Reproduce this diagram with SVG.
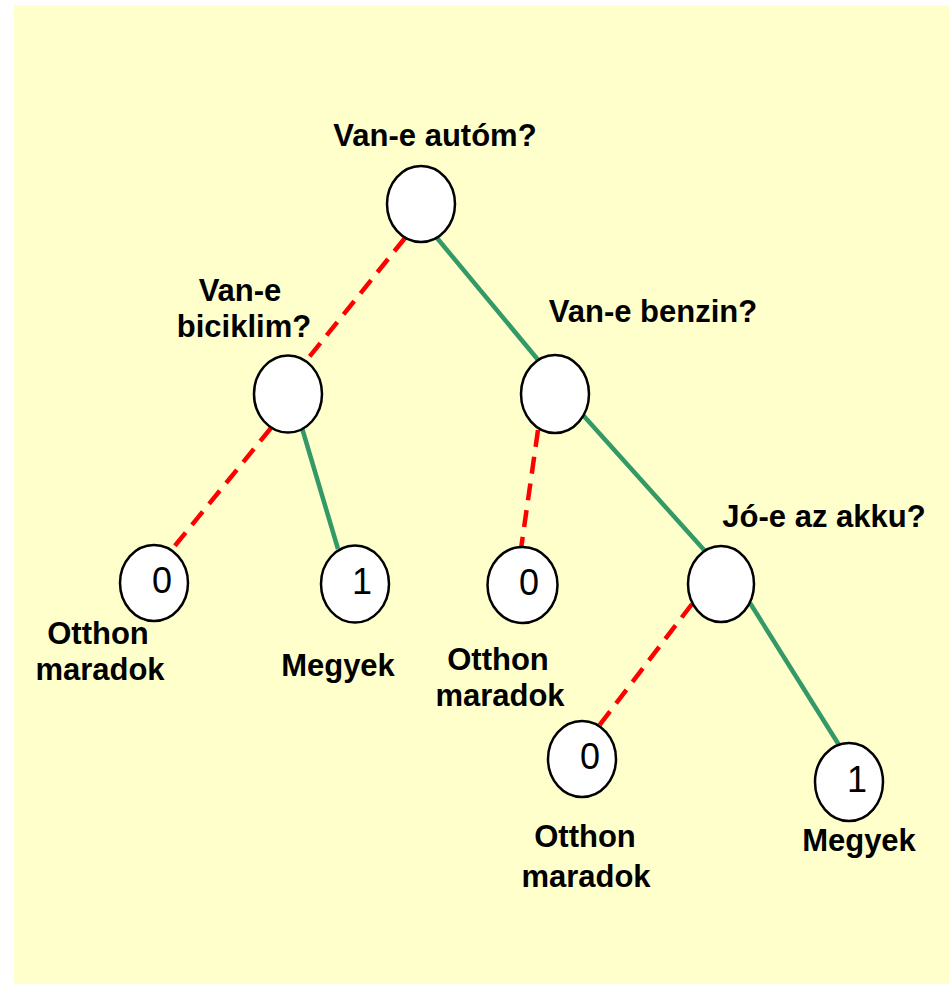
<svg xmlns="http://www.w3.org/2000/svg" width="949" height="984" viewBox="0 0 949 984">
<style>
.node ellipse{fill:#FFFFFF;stroke:#000000;stroke-width:2.5}
.lbl{font-family:"Liberation Sans",Arial,sans-serif;font-weight:bold;font-size:31px;fill:#000000;text-anchor:middle}
.dig{font-family:"Liberation Sans",Arial,sans-serif;font-size:36px;fill:#000000;text-anchor:middle}
.no{stroke:#FF0000;stroke-width:4.5;stroke-dasharray:17 10;fill:none}
.yes{stroke:#339966;stroke-width:4.5;fill:none}
</style>
<rect x="14" y="5" width="935" height="979" fill="#FFFFCC"/>
<g id="connectors">
<line class="no" x1="405" y1="238" x2="306" y2="361"/>
<line class="yes" x1="437" y1="238" x2="539" y2="361"/>
<line class="no" x1="271" y1="428" x2="169" y2="553"/>
<line class="yes" x1="302" y1="428" x2="338" y2="549"/>
<line class="no" x1="538" y1="430" x2="521" y2="549"/>
<line class="yes" x1="582" y1="414" x2="705" y2="551"/>
<line class="no" x1="692" y1="604" x2="598" y2="727"/>
<line class="yes" x1="750" y1="603" x2="839" y2="745"/>
</g>
<g id="n-auto" class="node"><ellipse cx="421" cy="204" rx="34" ry="38"/><text class="lbl" x="435" y="146">Van-e autóm?</text></g>
<g id="n-bicikli" class="node"><ellipse cx="288" cy="394" rx="34" ry="38.5"/><text class="lbl" x="240" y="301">Van-e</text><text class="lbl" x="244" y="337">biciklim?</text></g>
<g id="n-benzin" class="node"><ellipse cx="555" cy="394" rx="34" ry="39"/><text class="lbl" x="653" y="322">Van-e benzin?</text></g>
<g id="n-akku" class="node"><ellipse cx="721" cy="584" rx="33" ry="38"/><text class="lbl" x="824" y="527">Jó-e az akku?</text></g>
<g id="leaf-1" class="node"><ellipse cx="154" cy="583" rx="34" ry="38"/><text class="dig" x="162" y="593">0</text><text class="lbl" x="98" y="644">Otthon</text><text class="lbl" x="100" y="680">maradok</text></g>
<g id="leaf-2" class="node"><ellipse cx="355" cy="584" rx="34" ry="38.5"/><text class="dig" x="362" y="594">1</text><text class="lbl" x="338" y="676">Megyek</text></g>
<g id="leaf-3" class="node"><ellipse cx="522.5" cy="585" rx="35" ry="38"/><text class="dig" x="529" y="595">0</text><text class="lbl" x="498" y="670">Otthon</text><text class="lbl" x="500" y="706">maradok</text></g>
<g id="leaf-4" class="node"><ellipse cx="582" cy="759" rx="34" ry="38"/><text class="dig" x="590" y="769">0</text><text class="lbl" x="585" y="847">Otthon</text><text class="lbl" x="586" y="887">maradok</text></g>
<g id="leaf-5" class="node"><ellipse cx="849" cy="782" rx="34" ry="39"/><text class="dig" x="857" y="792">1</text><text class="lbl" x="859" y="851">Megyek</text></g>
</svg>
